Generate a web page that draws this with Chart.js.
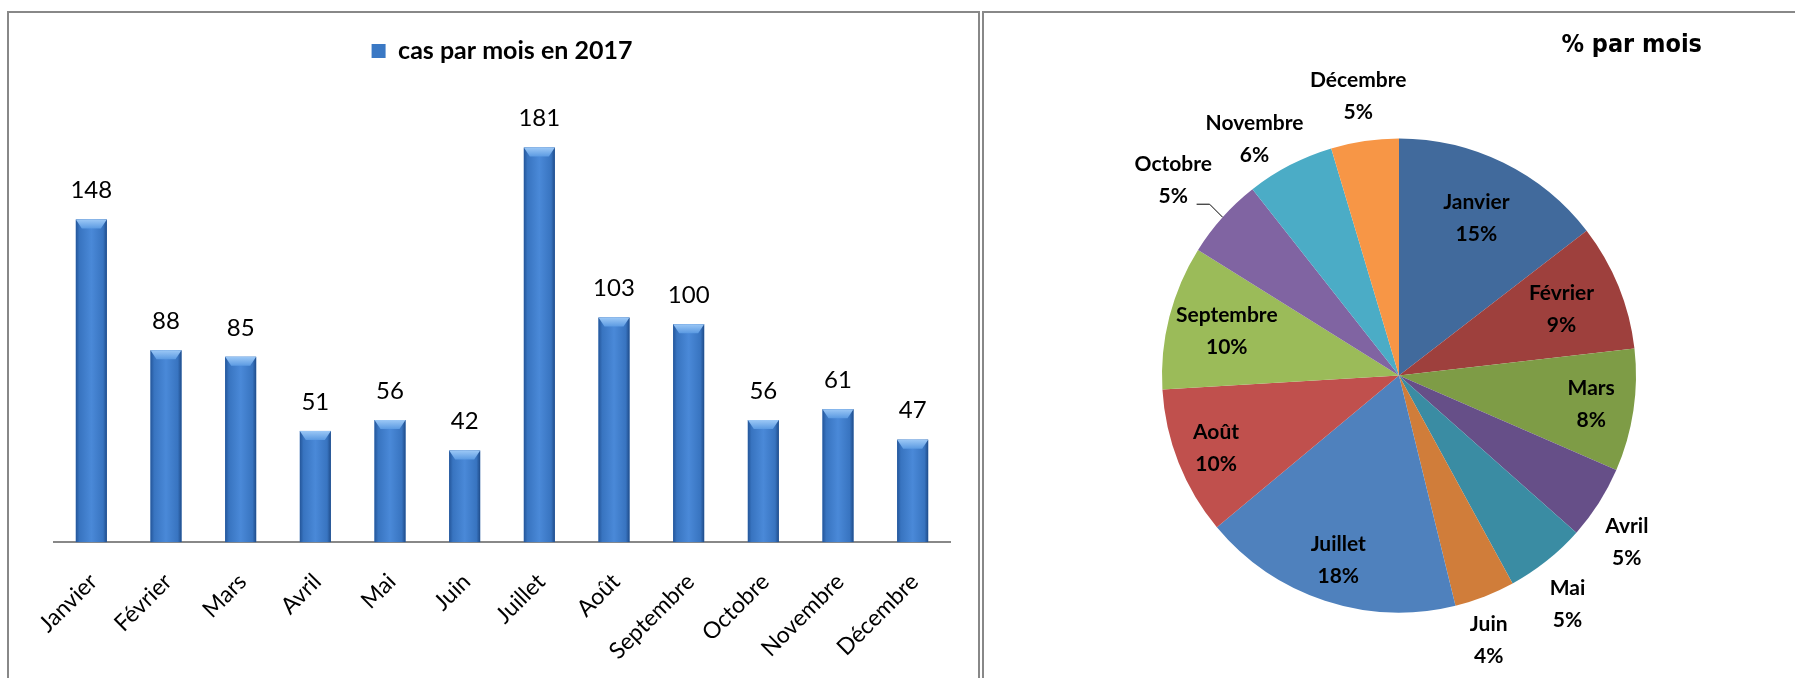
<!DOCTYPE html>
<html>
<head>
<meta charset="utf-8">
<script src="https://cdn.jsdelivr.net/npm/chart.js@4.4.1/dist/chart.umd.min.js"></script>
<style>
  body { margin: 0; width: 1795px; height: 678px; overflow: hidden; background: #fff; }
  .panel { position: absolute; border: 0 solid #888; }
  #leftPanel { left: 7px; top: 11px; width: 969px; height: 680px; border-width: 2px 2px 0 2px; }
  #rightPanel { left: 982px; top: 11px; width: 820px; height: 680px; border-width: 2px 0 0 2px; }
  .box { position: absolute; }
  #barBox { left: 10px; top: 14px; width: 965px; height: 669px; }
  #pieBox { left: 1096px; top: 12px; width: 606px; height: 659px; }
</style>
</head>
<body>
<div class="panel" id="leftPanel"></div>
<div class="panel" id="rightPanel"></div>
<div class="box" id="barBox"><canvas id="bar-chart"></canvas></div>
<div class="box" id="pieBox"><canvas id="pie-chart"></canvas></div>
<script>
  var months = ['Janvier', 'Février', 'Mars', 'Avril', 'Mai', 'Juin', 'Juillet', 'Août', 'Septembre', 'Octobre', 'Novembre', 'Décembre'];
  var cases = [148, 88, 85, 51, 56, 42, 181, 103, 100, 56, 61, 47];
  var percentLabels = ['15%', '9%', '8%', '5%', '5%', '4%', '18%', '10%', '10%', '5%', '6%', '5%'];

  var sliceColors = ['#416A9C', '#9E403D', '#7E9C46', '#664F88', '#3A8CA3', '#D07D3A',
                     '#4F81BD', '#C0504D', '#9BBB59', '#8064A2', '#4BACC6', '#F79646'];
  var calibri = 'Lato, "Open Sans", sans-serif';

  // bars with the excel-like bevel + value labels on top
  var barLook = {
    id: 'barLook',
    afterDatasetsDraw: function(chart) {
      var ctx = chart.ctx;
      var meta = chart.getDatasetMeta(0);
      meta.data.forEach(function(bar, i) {
        var p = bar.getProps(['x', 'y', 'base', 'width'], true);
        var l = p.x - p.width / 2, r = p.x + p.width / 2;
        var g = ctx.createLinearGradient(l, 0, r, 0);
        g.addColorStop(0, '#24569A');
        g.addColorStop(0.12, '#3874C0');
        g.addColorStop(0.5, '#4A89D8');
        g.addColorStop(0.88, '#3874C0');
        g.addColorStop(1, '#1F4C8A');
        ctx.save();
        ctx.fillStyle = g;
        ctx.fillRect(l, p.y, p.width, p.base - p.y);
        var cap = ctx.createLinearGradient(0, p.y, 0, p.y + 9);
        cap.addColorStop(0, '#9CC8F6');
        cap.addColorStop(1, '#5B9AE2');
        ctx.fillStyle = cap;
        ctx.beginPath();
        ctx.moveTo(l, p.y);
        ctx.lineTo(r, p.y);
        ctx.lineTo(r - 6, p.y + 9);
        ctx.lineTo(l + 6, p.y + 9);
        ctx.closePath();
        ctx.fill();
        ctx.fillStyle = '#000';
        ctx.font = '24px ' + calibri;
        ctx.textAlign = 'center';
        ctx.textBaseline = 'middle';
        ctx.fillText(cases[i], p.x, p.y - 29);
        ctx.restore();
      });
    }
  };

  new Chart(document.getElementById('bar-chart').getContext('2d'), {
    type: 'bar',
    data: {
      labels: months,
      datasets: [{
        label: 'cas par mois en 2017',
        data: cases,
        backgroundColor: '#3A78C4',
        categoryPercentage: 1,
        barPercentage: 0.415
      }]
    },
    options: {
      responsive: true,
      maintainAspectRatio: false,
      animation: false,
      layout: { padding: { left: 44, right: 25, top: 14.5, bottom: 0 } },
      plugins: {
        tooltip: { enabled: false },
        legend: {
          labels: {
            boxWidth: 14, boxHeight: 14,
            color: '#000',
            font: { family: calibri, size: 25, weight: 'bold' }
          }
        }
      },
      scales: {
        y: { display: false, min: 0, max: 215 },
        x: {
          grid: { display: false },
          border: { display: true, color: '#888', width: 2 },
          ticks: {
            color: '#000',
            font: { family: calibri, size: 23 },
            minRotation: 45, maxRotation: 45,
            padding: 18,
            labelOffset: 2
          }
        }
      }
    },
    plugins: [barLook]
  });

  // pie labels: inside the big slices, outside the small ones
  var pieLabels = {
    id: 'pieLabels',
    afterDatasetsDraw: function(chart, args, opts) {
      var ctx = chart.ctx;
      var meta = chart.getDatasetMeta(0);
      meta.data.forEach(function(arc, i) {
        var p = arc.getProps(['x', 'y', 'startAngle', 'endAngle', 'outerRadius'], true);
        var mid = (p.startAngle + p.endAngle) / 2;
        var a = mid + opts.shift[i] * Math.PI / 180;
        var r = p.outerRadius * opts.radial[i];
        var cx = p.x + Math.cos(a) * r;
        var cy = p.y + Math.sin(a) * r;
        ctx.save();
        ctx.fillStyle = '#000';
        ctx.font = 'bold 21px ' + calibri;
        ctx.textAlign = 'center';
        ctx.textBaseline = 'middle';
        ctx.fillText(months[i], cx, cy - 16);
        ctx.fillText(percentLabels[i], cx, cy + 16);
        if (opts.leader[i]) {
          var ex = p.x + Math.cos(mid) * p.outerRadius;
          var ey = p.y + Math.sin(mid) * p.outerRadius;
          ctx.strokeStyle = '#000';
          ctx.lineWidth = 1;
          ctx.beginPath();
          ctx.moveTo(ex, ey);
          ctx.lineTo(ex - 13, ey - 13);
          ctx.lineTo(ex - 26, ey - 13);
          ctx.stroke();
        }
        ctx.restore();
      });
    }
  };

  new Chart(document.getElementById('pie-chart').getContext('2d'), {
    type: 'pie',
    data: {
      labels: months,
      datasets: [{
        data: cases,
        backgroundColor: sliceColors,
        borderWidth: 0
      }]
    },
    options: {
      responsive: true,
      maintainAspectRatio: false,
      animation: false,
      radius: 237,
      plugins: {
        tooltip: { enabled: false },
        legend: { display: false },
        title: {
          display: true,
          text: '% par mois',
          align: 'end',
          color: '#000',
          font: { family: '"DejaVu Sans Condensed", "Liberation Sans Narrow", sans-serif', size: 25, weight: 'bold' },
          padding: { top: 18, bottom: 20 }
        },
        pieLabels: {
          radial: [0.74, 0.74, 0.82, 1.19, 1.2, 1.18, 0.82, 0.83, 0.75, 1.26, 1.17, 1.19],
          shift: [0, 0, 0, 3.6, 2.2, 2.5, 0, 0, 0, -1, -4, 0],
          leader: [false, false, false, false, false, false, false, false, false, true, false, false]
        }
      }
    },
    plugins: [pieLabels]
  });
</script>
</body>
</html>
